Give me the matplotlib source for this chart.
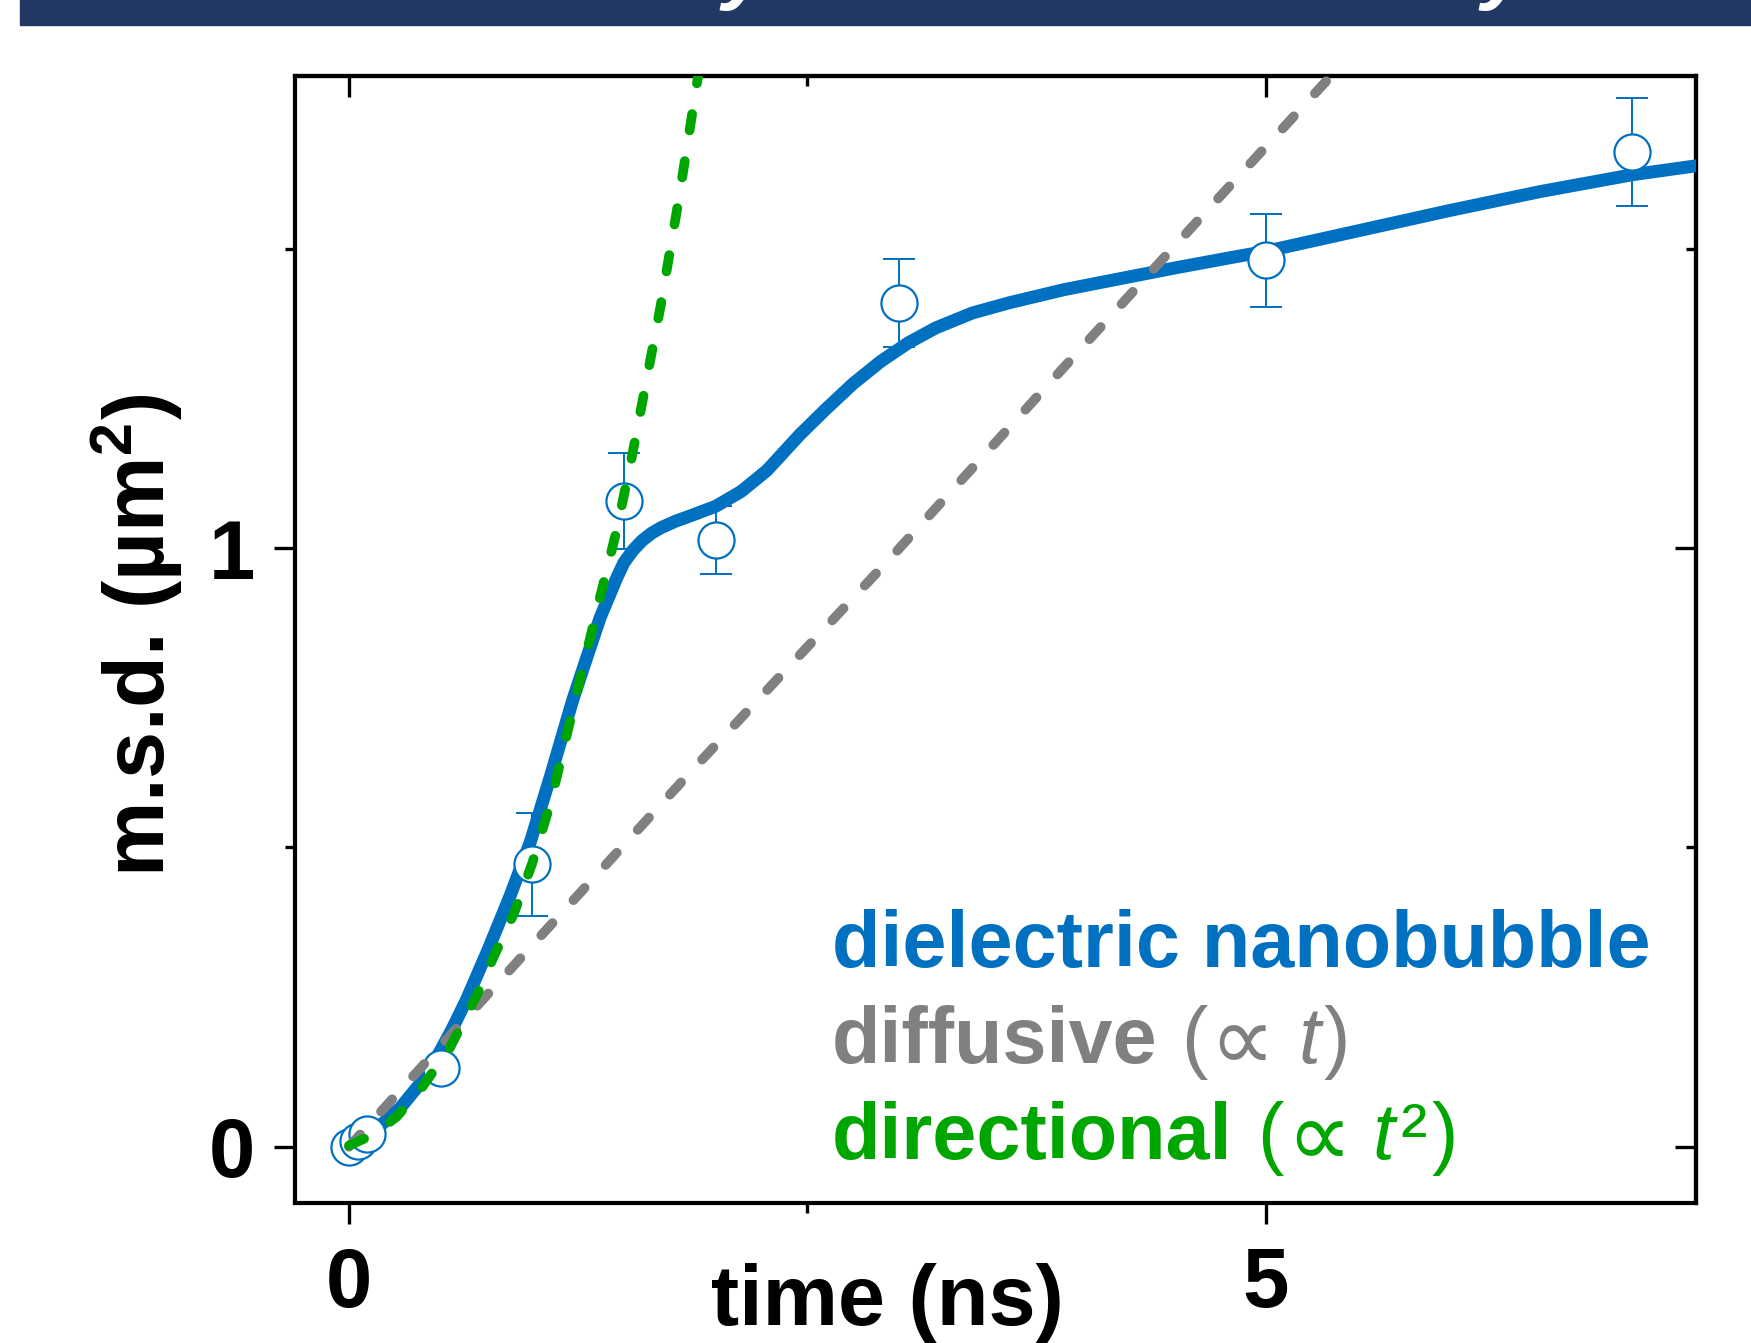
import matplotlib
matplotlib.use('Agg')
import matplotlib.pyplot as plt
from matplotlib.patches import Rectangle

# measured points (time in ns, m.s.d. in um^2)
t_pts = [0.0, 0.05, 0.1, 0.5, 1.0, 1.5, 2.0, 3.0, 5.0, 7.0]
msd_pts = [0.0, 0.009, 0.022, 0.131, 0.472, 1.079, 1.014, 1.41, 1.481, 1.662]
msd_err = [0.006, 0.006, 0.007, 0.007, 0.086, 0.08, 0.057, 0.074, 0.078, 0.09]

# smooth guide through the data
t_curve = [0.0, 0.1, 0.18, 0.28, 0.4, 0.48, 0.56, 0.64, 0.76, 0.88, 0.99, 1.1,
           1.22, 1.3, 1.37, 1.46, 1.5, 1.55, 1.6, 1.65, 1.7, 1.78, 1.87, 2.0,
           2.14, 2.28, 2.46, 2.6, 2.75, 2.9, 3.05, 3.2, 3.4, 3.6, 3.9, 4.2,
           4.5, 4.8, 5.0, 5.5, 6.0, 6.5, 7.0, 7.35]
msd_curve = [0.0, 0.02, 0.038, 0.065, 0.11, 0.15, 0.195, 0.245, 0.33, 0.42,
             0.51, 0.62, 0.746, 0.82, 0.884, 0.95, 0.976, 0.997, 1.013, 1.025,
             1.034, 1.045, 1.055, 1.07, 1.095, 1.13, 1.19, 1.232, 1.275, 1.312,
             1.343, 1.368, 1.393, 1.41, 1.432, 1.45, 1.468, 1.485, 1.496, 1.53,
             1.564, 1.596, 1.624, 1.639]

# diffusive guide (~t)
t_diff = [0.0, 1.06, 1.89, 2.97, 4.0, 4.71, 5.42]
msd_diff = [0.0, 0.357, 0.635, 0.989, 1.336, 1.574, 1.81]

# directional guide (~t^2)
t_dir = [0.0, 0.13, 0.26, 0.4, 0.55, 0.7, 0.79, 0.9, 1.0, 1.1, 1.233, 1.37,
         1.46, 1.54, 1.58, 1.7, 1.8, 1.92]
msd_dir = [0.002, 0.02, 0.05, 0.10, 0.165, 0.255, 0.318, 0.39, 0.474, 0.575,
           0.746, 0.919, 1.03, 1.148, 1.212, 1.405, 1.585, 1.82]

x_major = [0, 5]
x_minor = [2.5]
y_major = [0, 1]
y_minor = [0.5, 1.5]

BLUE = '#0070C0'
GRAY = '#808080'
GREEN = '#00A600'
NAVY = '#213865'

W, H = 1751, 1343


def text_row(fig, x, y, parts, size):
    """ Draw pieces of text side by side on one baseline (pixel coords) """
    r = fig.canvas.get_renderer()
    for s, kw, gap in parts:
        kw = dict(kw)
        fs = kw.pop('size', size)
        dy = kw.pop('dy', 0)
        t = fig.text(x / W, (y + dy) / H, s, fontsize=fs, va='baseline',
                     ha='left', **kw)
        x += t.get_window_extent(r).width + gap


def main():
    plt.rcParams['font.family'] = ['Liberation Sans', 'DejaVu Sans']
    plt.rcParams['font.weight'] = 'bold'
    plt.rcParams['mathtext.fontset'] = 'custom'
    plt.rcParams['mathtext.rm'] = 'Liberation Sans:bold'
    plt.rcParams['mathtext.bf'] = 'Liberation Sans:bold'

    fig = plt.figure(figsize=(W / 100, H / 100), dpi=100)

    # header strip at the top of the page
    fig.patches.append(Rectangle((20 / W, (H - 25) / H), 1 - 20 / W, 25 / H,
                                 transform=fig.transFigure, color=NAVY, zorder=0))
    for xp in (722, 1481):
        fig.text(xp / W, (H + 6) / H, 'y', color='white', fontsize=60,
                 fontstyle='italic', va='baseline')

    ax = fig.add_axes([295 / W, (H - 1203) / H, (1696 - 295) / W, (1203 - 76) / H])

    ax.errorbar(t_pts, msd_pts, yerr=msd_err, fmt='none', ecolor=BLUE,
                elinewidth=1.4, capsize=11.5, capthick=1.4, zorder=2)
    ax.plot(t_curve, msd_curve, color=BLUE, lw=9.3, solid_capstyle='round',
            solid_joinstyle='round', zorder=3)
    ax.plot(t_pts, msd_pts, 'o', ms=26, mfc='white', mec=BLUE, mew=1.6, zorder=4)
    ax.plot(t_diff, msd_diff, color=GRAY, lw=7, dashes=(1.7, 3.2),
            dash_capstyle='round', zorder=5)
    ax.plot(t_dir, msd_dir, color=GREEN, lw=7, dashes=(1.7, 3.2),
            dash_capstyle='round', zorder=6)

    ax.set_xlim(-0.2946, 7.348)
    ax.set_ylim(-0.094, 1.789)

    ax.set_xticks(x_major)
    ax.set_xticks(x_minor, minor=True)
    ax.set_xticklabels([str(v) for v in x_major])
    ax.set_yticks(y_major)
    ax.set_yticks(y_minor, minor=True)
    ax.set_yticklabels([str(v) for v in y_major])

    for s in ax.spines.values():
        s.set_linewidth(3)
    ax.tick_params(which='both', direction='out', width=2.4, labelsize=60)
    ax.tick_params(which='major', length=15)
    ax.tick_params(which='minor', length=7.5)
    ax.tick_params(axis='x', pad=16)
    ax.tick_params(axis='y', pad=14)

    # inward ticks on top and right
    top = ax.secondary_xaxis('top')
    top.set_xticks(x_major)
    top.set_xticks(x_minor, minor=True)
    top.tick_params(which='both', direction='in', width=2.4, labeltop=False)
    top.tick_params(which='major', length=15)
    top.tick_params(which='minor', length=7.5)
    top.spines['top'].set_linewidth(3)
    right = ax.secondary_yaxis('right')
    right.set_yticks(y_major)
    right.set_yticks(y_minor, minor=True)
    right.tick_params(which='both', direction='in', width=2.4, labelright=False)
    right.tick_params(which='major', length=15)
    right.tick_params(which='minor', length=7.5)
    right.spines['right'].set_linewidth(3)

    fig.text(887 / W, 18 / H, 'time (ns)', fontsize=61, ha='center', va='baseline')
    fig.text(137 / W, 708 / H, 'm.s.d. (\u00b5m$^{2}$)', fontsize=61, rotation=90,
             ha='center', va='center')

    reg = {'fontweight': 'normal'}
    ital = {'fontweight': 'normal', 'fontstyle': 'italic'}
    prop = {'fontweight': 'normal', 'size': 66, 'dy': -7}
    size = 57
    text_row(fig, 832, H - 967,
             [('dielectric nanobubble', {'color': BLUE}, 0)], size)
    text_row(fig, 832, H - 1063,
             [('diffusive', {'color': GRAY}, 23),
              ('(', dict(reg, color=GRAY), 2),
              ('\u221d', dict(prop, color=GRAY), 24),
              ('t', dict(ital, color=GRAY), 3),
              (')', dict(reg, color=GRAY), 0)], size)
    text_row(fig, 832, H - 1159,
             [('directional', {'color': GREEN}, 25),
              ('(', dict(reg, color=GREEN), 2),
              ('\u221d', dict(prop, color=GREEN), 21),
              ('t', dict(ital, color=GREEN), 6),
              ('\u00b2', dict(reg, color=GREEN), 5),
              (')', dict(reg, color=GREEN), 0)], size)

    fig.savefig('out.png', dpi=100)


if __name__ == '__main__':
    main()
